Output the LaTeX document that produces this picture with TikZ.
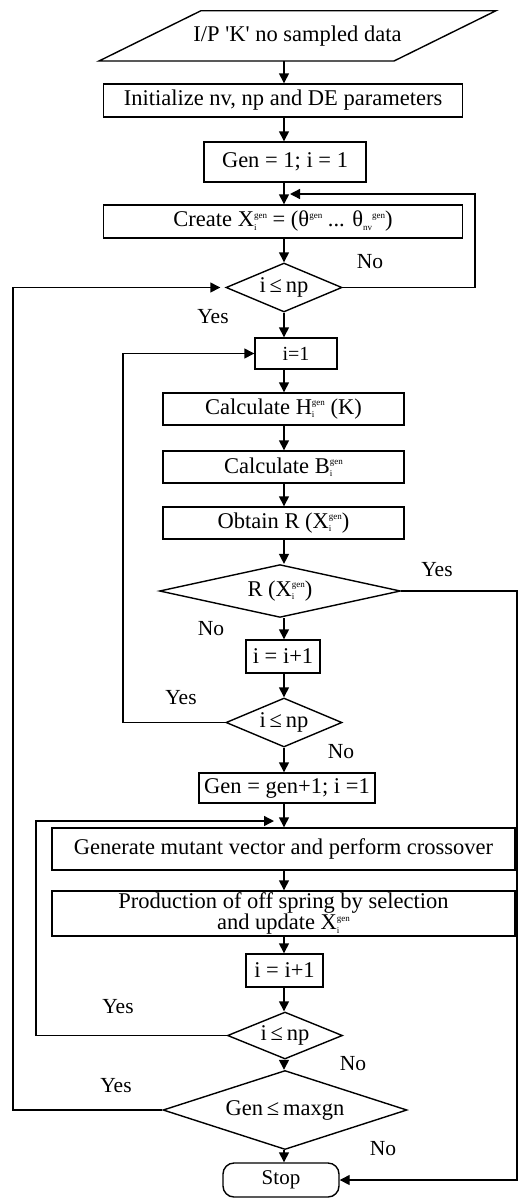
\documentclass[tikz,border=0pt]{standalone}
\usepackage{fontspec}
\setmainfont{Liberation Serif}
\usetikzlibrary{shapes.geometric,arrows.meta}
\newcommand{\sus}[2]{\makebox[0pt][l]{\raisebox{-3.5pt}{\fontsize{9}{9}\selectfont #1}}\raisebox{8.5pt}{\fontsize{9}{9}\selectfont #2}}
\newcommand{\supx}[1]{\raisebox{8.5pt}{\fontsize{9}{9}\selectfont #1}}
\newcommand{\subx}[1]{\raisebox{-3.5pt}{\fontsize{9}{9}\selectfont #1}}
\begin{document}
\begin{tikzpicture}[x=1pt,y=-1pt,
  font=\fontsize{22.5}{26}\selectfont,
  proc/.style={draw, line width=1.4pt, inner sep=0pt, align=center},
  dec/.style={draw, diamond, line width=1.4pt, inner sep=0pt, aspect=2},
  term/.style={draw, line width=1.4pt, inner sep=0pt, rounded corners=11pt},
  arr/.style={line width=1.4pt, -{Triangle[length=10pt,width=10pt]}},
  lab/.style={font=\fontsize{21.5}{24}\selectfont, inner sep=0pt}]
\useasboundingbox (0,0) rectangle (519,1200);

% input parallelogram
\node[inner sep=0pt, minimum width=200pt, minimum height=50pt] (in) at (297.5,36) {I/P \textquotesingle K\textquotesingle{} no sampled data};
\draw[line width=1.4pt] (99,61) -- (201,10.7) -- (496,10.7) -- (394,61) -- cycle;

\node[proc, minimum width=359pt, minimum height=33pt] (init) at (283,100.5) {Initialize nv, np and DE parameters};
\node[proc, minimum width=162pt, minimum height=40pt] (gen1) at (285,162) {Gen = 1; i = 1};
\node[proc, minimum width=359pt, minimum height=33pt] (create) at (283,221.5) {Create X\sus{i}{gen} = (θ\supx{gen} ... θ\subx{nv}\supx{gen})};
\node[dec, minimum width=116pt, minimum height=49pt] (d1) at (284,287.5) {i\,≤\,np};
\node[proc, minimum width=82pt, minimum height=31pt, font=\fontsize{20}{22}\selectfont] (one) at (296,353.5) {i=1};
\node[proc, minimum width=241pt, minimum height=32pt] (calcH) at (283.5,409) {Calculate H\sus{i}{gen} (K)};
\node[proc, minimum width=241pt, minimum height=32pt] (calcB) at (283.5,467) {Calculate B\sus{i}{gen}};
\node[proc, minimum width=241pt, minimum height=32pt] (obtR) at (283.5,523) {Obtain R (X\sus{i}{gen})};
\node[dec, minimum width=241pt, minimum height=52pt] (dR) at (280,591) {R (X\sus{i}{gen})};
\node[proc, minimum width=74pt, minimum height=33pt] (inc1) at (283,656.5) {i = i+1};
\node[dec, minimum width=116pt, minimum height=49pt] (d2) at (284,722.5) {i\,≤\,np};
\node[proc, minimum width=176pt, minimum height=30pt] (gen2) at (287,788) {Gen = gen+1; i =1};
\node[proc, minimum width=463pt, minimum height=42pt] (genmut) at (283.5,849) {Generate mutant vector and perform crossover};
\node[proc, minimum width=463pt, minimum height=45pt, font=\fontsize{22.5}{21}\selectfont] (prod) at (283.5,913.5) {Production of off spring by selection\\and update X\sus{i}{gen}};
\node[proc, minimum width=77pt, minimum height=33pt] (inc2) at (284.5,970.5) {i = i+1};
\node[dec, minimum width=115pt, minimum height=47pt] (d3) at (285,1035.5) {i\,≤\,np};
\node[dec, minimum width=244pt, minimum height=56pt] (dmax) at (285,1110) {Gen\,≤\,maxgn};
\node[term, minimum width=116pt, minimum height=34pt, font=\fontsize{21}{22}\selectfont] (stop) at (281,1180) {Stop};

% helper coordinates
\coordinate (m1) at (284,194);
\coordinate (m2) at (284,821);
\coordinate (L1) at (13,0);
\coordinate (L2) at (123,0);
\coordinate (L3) at (36,0);
\coordinate (R1) at (475,0);
\coordinate (R2) at (517,0);

% main flow
\draw[arr] (in.south -| d1.north) -- (init.north -| d1.north);
\draw[arr] (init.south -| d1.north) -- (gen1.north -| d1.north);
\draw[arr] (gen1.south -| d1.north) -- (create.north -| d1.north);
\draw[arr] (create.south -| d1.north) -- (d1.north);
\draw[arr] (d1.south) -- (one.north -| d1.south);
\draw[arr] (one.south -| d1.south) -- (calcH.north -| d1.south);
\draw[arr] (calcH.south -| d1.south) -- (calcB.north -| d1.south);
\draw[arr] (calcB.south -| d1.south) -- (obtR.north -| d1.south);
\draw[arr] (obtR.south -| d1.south) -- (dR.north -| d1.south);
\draw[arr] (dR.south -| d1.south) -- (inc1.north -| d1.south);
\draw[arr] (inc1.south -| d1.south) -- (d2.north);
\draw[arr] (d2.south) -- (gen2.north -| d2.south);
\draw[arr] (gen2.south -| d2.south) -- (genmut.north -| d2.south);
\draw[arr] (genmut.south -| d2.south) -- (prod.north -| d2.south);
\draw[arr] (prod.south -| d2.south) -- (inc2.north -| d2.south);
\draw[arr] (inc2.south -| d2.south) -- (d3.north -| d2.south);
\draw[arr] (d3.south -| d2.south) -- (dmax.north -| d2.south);
\draw[arr] (dmax.south -| d2.south) -- (stop.north -| d2.south);

% loops
\draw[arr] (d1.east) -| (R1 |- m1) -- ([xshift=6pt]m1);
\draw[arr] (dmax.west) -- (dmax.west -| L1) |- ([xshift=-5pt]d1.west);
\draw[arr] (d2.west) -- (d2.west -| L2) |- (one.west);
\draw[arr] (d3.west) -- (d3.west -| L3) |- ([xshift=-10pt]m2);
\draw[arr] (dR.east) -- (dR.east -| R2) |- (stop.east);

% labels
\node[lab] (l1) at (370,262) {No};
\node[lab] (l2) at (213,317) {Yes};
\node[lab] (l3) at (437,570) {Yes};
\node[lab] (l4) at (211,629) {No};
\node[lab] (l5) at (181,698) {Yes};
\node[lab] (l6) at (341,752) {No};
\node[lab] (l7) at (118,1007) {Yes};
\node[lab] (l8) at (353,1064) {No};
\node[lab] (l9) at (116,1086) {Yes};
\node[lab] (l10) at (383,1149) {No};
\end{tikzpicture}
\end{document}
